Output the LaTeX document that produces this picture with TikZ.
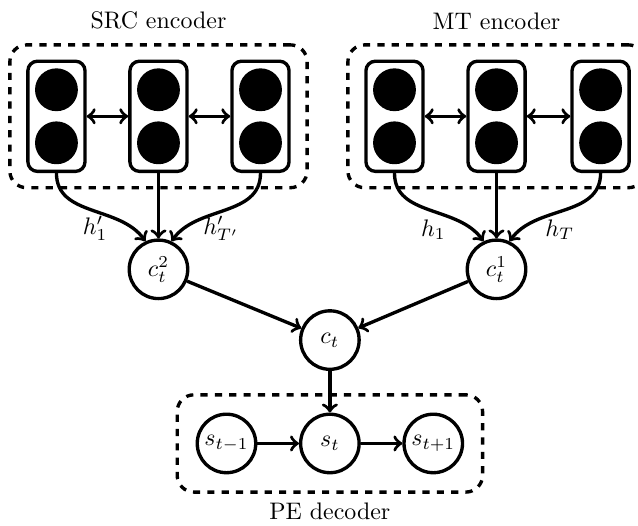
\documentclass[tikz,border=0pt]{standalone}
\usetikzlibrary{positioning}

\begin{document}
\begin{tikzpicture}[
    line width=1.4pt,
    >=to,
    cell/.style={draw,rounded corners=4pt,minimum width=0.84cm,minimum height=1.62cm},
    unit/.style={circle,fill=black,minimum size=0.63cm,inner sep=0pt},
    state/.style={draw,circle,minimum size=0.86cm,inner sep=0pt},
    group/.style={draw,dashed,rounded corners=7pt},
    hlabel/.style={inner sep=0pt}
]
    \useasboundingbox (-4.85,-2.72) rectangle (4.53,5.0);
    \begin{scope}
        \begin{scope}[
            xshift=-2.52cm
        ]
            \node[group,minimum width=4.37cm,minimum height=2.1cm] (srcbox) at (0,3.29) {};
            \node[above=0.06cm of srcbox] (srclabel) {SRC encoder};
            \node[cell] (src1) at (-1.5,3.29) {};
            \node[cell] (src2) at (0,3.29) {};
            \node[cell] (src3) at (1.5,3.29) {};
            \node[unit] (src1a) at (-1.5,3.68) {};
            \node[unit] (src1b) at (-1.5,2.9) {};
            \node[unit] (src2a) at (0,3.68) {};
            \node[unit] (src2b) at (0,2.9) {};
            \node[unit] (src3a) at (1.5,3.68) {};
            \node[unit] (src3b) at (1.5,2.9) {};
            \draw[<->] (src1) -- (src2);
            \draw[<->] (src2) -- (src3);
            \node[state] (c2) at (0,1.04) {$c_t^2$};
            \draw[->] (src1.south) to [out=-90,in=125] (c2.115);
            \draw[->] (src2.south) -- (c2.north);
            \draw[->] (src3.south) to [out=-90,in=55] (c2.65);
            \node[hlabel] (hs1) at (-0.93,1.64) {$h'_1$};
            \node[hlabel] (hsT) at (0.92,1.64) {$h'_{T'}$};
        \end{scope}
        \begin{scope}[
            xshift=2.45cm
        ]
            \node[group,minimum width=4.37cm,minimum height=2.1cm] (mtbox) at (0,3.29) {};
            \node[above=0.06cm of mtbox] (mtlabel) {MT encoder};
            \node[cell] (mt1) at (-1.5,3.29) {};
            \node[cell] (mt2) at (0,3.29) {};
            \node[cell] (mt3) at (1.53,3.29) {};
            \node[unit] (mt1a) at (-1.5,3.68) {};
            \node[unit] (mt1b) at (-1.5,2.9) {};
            \node[unit] (mt2a) at (0,3.68) {};
            \node[unit] (mt2b) at (0,2.9) {};
            \node[unit] (mt3a) at (1.53,3.68) {};
            \node[unit] (mt3b) at (1.53,2.9) {};
            \draw[<->] (mt1) -- (mt2);
            \draw[<->] (mt2) -- (mt3);
            \node[state] (c1) at (0,1.04) {$c_t^1$};
            \draw[->] (mt1.south) to [out=-90,in=125] (c1.115);
            \draw[->] (mt2.south) -- (c1.north);
            \draw[->] (mt3.south) to [out=-90,in=55] (c1.65);
            \node[hlabel] (h1) at (-0.93,1.62) {$h_1$};
            \node[hlabel] (hT) at (0.93,1.62) {$h_T$};
        \end{scope}
        \node[state] (ct) at (0,0) {$c_t$};
        \draw[->] (c2) -- (ct);
        \draw[->] (c1) -- (ct);
        \begin{scope}[
            yshift=-1.52cm
        ]
            \node[group,minimum width=4.49cm,minimum height=1.43cm] (pebox) at (0,0) {};
            \node[below=0cm of pebox] (pelabel) {PE decoder};
            \node[state] (sprev) at (-1.52,0) {$s_{t-1}$};
            \node[state] (st) at (0,0) {$s_t$};
            \node[state] (snext) at (1.52,0) {$s_{t+1}$};
            \draw[->] (sprev) -- (st);
            \draw[->] (st) -- (snext);
        \end{scope}
        \draw[->] (ct) -- (st);
    \end{scope}
\end{tikzpicture}
\end{document}
